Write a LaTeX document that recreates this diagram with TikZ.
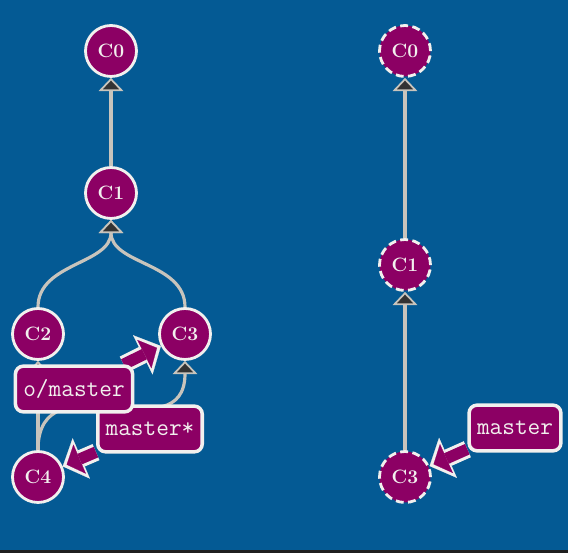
\documentclass[tikz,border=0pt]{standalone}
\usepackage{fontspec}
\usepackage{xcolor}
\usepackage{tikz}
\usetikzlibrary{arrows.meta}

\definecolor{bgblue}{HTML}{045A94}
\definecolor{cmpurple}{HTML}{8C0064}
\definecolor{edgegray}{HTML}{C8C4BC}
\definecolor{tipdark}{HTML}{333333}
\definecolor{rimwhite}{HTML}{F2F0EE}

\pgfdeclarelayer{bg}
\pgfdeclarelayer{lines}
\pgfsetlayers{bg,lines,main}

\tikzset{
  commit/.style={circle, draw=rimwhite, line width=1.6pt, fill=cmpurple,
    text=rimwhite, minimum size=1.02cm, inner sep=0pt,
    font=\fontsize{11}{11}\selectfont\bfseries},
  gone/.style={commit, dash pattern=on 4.5pt off 2.5pt},
  branch/.style={rectangle, rounded corners=4.5pt, draw=rimwhite, line width=2pt,
    fill=cmpurple, text=rimwhite, minimum height=26pt, inner xsep=4.5pt,
    font=\ttfamily\fontsize{14}{14}\selectfont},
  parent/.style={draw=edgegray, line width=1.8pt,
    -{Triangle[width=14pt,length=7.5pt,line width=1pt,fill=tipdark]}},
}

\newcommand\pointer[2]{%
  \draw[rimwhite, line width=10pt,
    -{Triangle[width=25pt,length=11.5pt,line width=0.1pt]}] (#1) -- (#2);
  \draw[cmpurple, line width=6.5pt, shorten >=2.5pt,
    -{Triangle[width=18pt,length=8pt,line width=0.1pt]}] (#1) -- (#2);
}

\begin{document}
\begin{tikzpicture}[x=0.02cm, y=0.02cm]
  \begin{pgfonlayer}{bg}
    \fill[bgblue] (0,0) rectangle (568,553);
    \fill[black!88] (0,0) rectangle (568,3);
  \end{pgfonlayer}

  % local repository
  \node[commit] (c0) at (111,502) {C0};
  \node[commit] (c1) at (111,360) {C1};
  \node[commit] (c2) at (38,219) {C2};
  \node[commit] (c3) at (185,219) {C3};
  \node[commit] (c4) at (38,76) {C4};
  \node[branch] (master) at (150,124) {master*};
  \node[branch] (omaster) at (74,164) {o/master};

  % remote repository
  \node[gone] (r0) at (405,502) {C0};
  \node[gone] (r1) at (405,288) {C1};
  \node[gone] (r3) at (405,76) {C3};
  \node[branch] (rmaster) at (515,125) {master};

  \begin{pgfonlayer}{lines}
    \draw[parent] (c1) -- (c0);
    \draw[parent] (c2) to[out=90, in=-90] (c1);
    \draw[parent] (c3) to[out=90, in=-90] (c1);
    \draw[parent] (c4) -- (c2);
    \draw[parent] (c4) to[out=90, in=-90, looseness=1.4] (c3);

    \draw[parent] (r1) -- (r0);
    \draw[parent] (r3) -- (r1);

    \pointer{master}{c4}
    \pointer{omaster}{c3}
    \pointer{rmaster}{r3}
  \end{pgfonlayer}
\end{tikzpicture}
\end{document}
